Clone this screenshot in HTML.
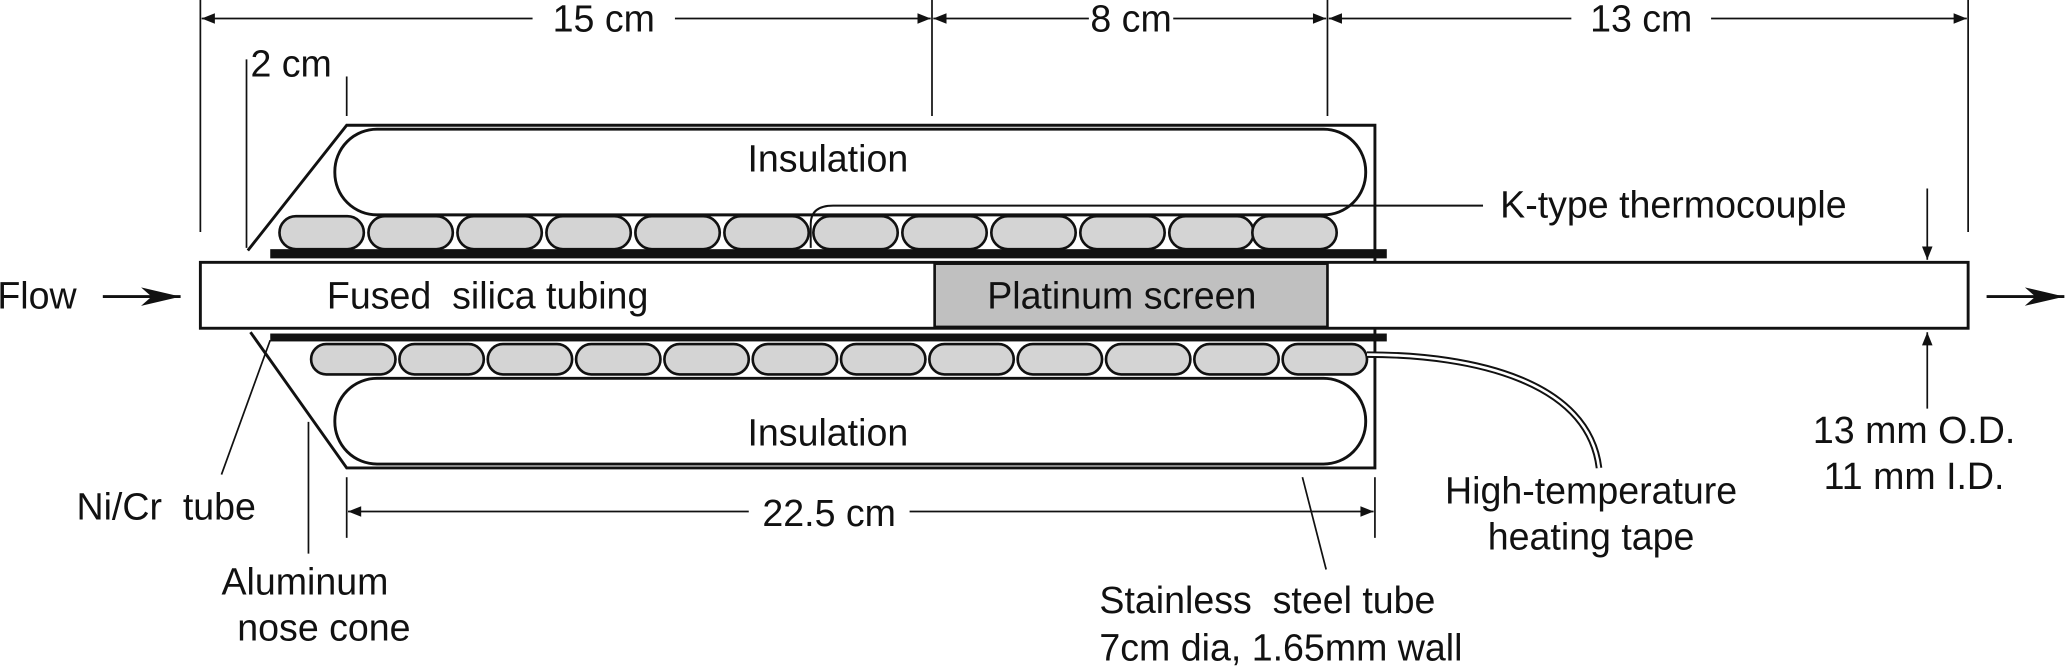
<!DOCTYPE html>
<html><head><style>
html,body{margin:0;padding:0;background:#fff;}
svg{display:block;}
text{font-family:"Liberation Sans",Arial,sans-serif;font-size:28.5px;fill:#111;}
</style></head><body>
<svg width="2067" height="671" viewBox="0 0 1568 509" xmlns="http://www.w3.org/2000/svg">
<defs>
<marker id="a" viewBox="0 0 10 10" refX="10" refY="5" markerWidth="11" markerHeight="10" orient="auto-start-reverse" markerUnits="userSpaceOnUse"><path d="M0,1 L10,5 L0,9 Z" fill="#111"/></marker>
<marker id="b" viewBox="0 0 30 14" refX="30" refY="7" markerWidth="30" markerHeight="14" orient="auto" markerUnits="userSpaceOnUse"><path d="M0,0 L30,7 L0,14 L8,7 Z" fill="#111"/></marker>
</defs>
<g stroke="#111" stroke-width="1.3" fill="none">
<line x1="152" y1="0" x2="152" y2="176"/>
<line x1="707" y1="0" x2="707" y2="88"/>
<line x1="1007" y1="0" x2="1007" y2="88"/>
<line x1="1493" y1="0" x2="1493" y2="176"/>
<line x1="153" y1="14" x2="404" y2="14" marker-start="url(#a)"/>
<line x1="512" y1="14" x2="706" y2="14" marker-end="url(#a)"/>
<line x1="708" y1="14" x2="826" y2="14" marker-start="url(#a)"/>
<line x1="890" y1="14" x2="1006" y2="14" marker-end="url(#a)"/>
<line x1="1008" y1="14" x2="1192" y2="14" marker-start="url(#a)"/>
<line x1="1298" y1="14" x2="1492" y2="14" marker-end="url(#a)"/>
<line x1="187" y1="45" x2="187" y2="188"/>
<line x1="263" y1="58" x2="263" y2="88"/>
<line x1="263" y1="362" x2="263" y2="408"/>
<line x1="1043" y1="362" x2="1043" y2="408"/>
<line x1="264" y1="388" x2="568" y2="388" marker-start="url(#a)"/>
<line x1="690" y1="388" x2="1042" y2="388" marker-end="url(#a)"/>
<line x1="205" y1="258" x2="168" y2="360"/>
<line x1="234" y1="320" x2="234" y2="420"/>
<line x1="988" y1="362" x2="1006" y2="432"/>
<line x1="1462" y1="143" x2="1462" y2="197" marker-end="url(#a)"/>
<line x1="1462" y1="310" x2="1462" y2="252" marker-end="url(#a)"/>
</g>
<g stroke="#111" stroke-width="2.2" fill="none">
<line x1="78" y1="225" x2="137" y2="225" marker-end="url(#b)"/>
<line x1="1507" y1="225" x2="1566" y2="225" marker-end="url(#b)"/>
<polyline points="188,190 263,95 1043,95 1043,355 263,355 190,252"/>
<rect x="254" y="98" width="782" height="65" rx="32"/>
<rect x="254" y="287" width="782" height="65" rx="32"/>
</g>
<g fill="#d4d4d4" stroke="#111" stroke-width="2">
<rect x="212" y="164" width="64" height="25" rx="12.5"/><rect x="279.5" y="164" width="64" height="25" rx="12.5"/><rect x="347" y="164" width="64" height="25" rx="12.5"/><rect x="414.5" y="164" width="64" height="25" rx="12.5"/><rect x="482" y="164" width="64" height="25" rx="12.5"/><rect x="549.5" y="164" width="64" height="25" rx="12.5"/><rect x="617" y="164" width="64" height="25" rx="12.5"/><rect x="684.5" y="164" width="64" height="25" rx="12.5"/><rect x="752" y="164" width="64" height="25" rx="12.5"/><rect x="819.5" y="164" width="64" height="25" rx="12.5"/><rect x="887" y="164" width="64" height="25" rx="12.5"/><rect x="950" y="164" width="64" height="25" rx="12.5"/>
<rect x="236" y="261" width="64" height="23" rx="11.5"/><rect x="303" y="261" width="64" height="23" rx="11.5"/><rect x="370" y="261" width="64" height="23" rx="11.5"/><rect x="437" y="261" width="64" height="23" rx="11.5"/><rect x="504" y="261" width="64" height="23" rx="11.5"/><rect x="571" y="261" width="64" height="23" rx="11.5"/><rect x="638" y="261" width="64" height="23" rx="11.5"/><rect x="705" y="261" width="64" height="23" rx="11.5"/><rect x="772" y="261" width="64" height="23" rx="11.5"/><rect x="839" y="261" width="64" height="23" rx="11.5"/><rect x="906" y="261" width="64" height="23" rx="11.5"/><rect x="973" y="261" width="64" height="23" rx="11.5"/>
</g>
<path d="M1125,156 L632,156 Q615,156 615,170 L615,188" stroke="#111" stroke-width="1.5" fill="none"/>
<path d="M1037,269 C1120,269 1205,290 1213,355" stroke="#111" stroke-width="5" fill="none"/>
<path d="M1037,269 C1120,269 1205,290 1213,355" stroke="#fff" stroke-width="2" fill="none"/>
<rect x="205" y="189" width="847" height="7" fill="#111"/>
<rect x="205" y="253" width="847" height="6" fill="#111"/>
<rect x="152" y="199" width="1341" height="50" fill="#fff" stroke="#111" stroke-width="2.2"/>
<rect x="709" y="200" width="298" height="48" fill="#c0c0c0" stroke="#111" stroke-width="2"/>
<text x="458" y="24" text-anchor="middle">15 cm</text>
<text x="858" y="24" text-anchor="middle">8 cm</text>
<text x="1245" y="24" text-anchor="middle">13 cm</text>
<text x="190" y="58">2 cm</text>
<text x="628" y="130" text-anchor="middle">Insulation</text>
<text x="628" y="338" text-anchor="middle">Insulation</text>
<text x="1138" y="165">K-type thermocouple</text>
<text x="-2" y="234">Flow</text>
<text x="248" y="234" xml:space="preserve">Fused  silica tubing</text>
<text x="851" y="234" text-anchor="middle">Platinum screen</text>
<text x="1452" y="336" text-anchor="middle">13 mm O.D.</text>
<text x="1452" y="371" text-anchor="middle">11 mm I.D.</text>
<text x="1207" y="382" text-anchor="middle">High-temperature</text>
<text x="1207" y="417" text-anchor="middle">heating tape</text>
<text x="629" y="399" text-anchor="middle">22.5 cm</text>
<text x="58" y="394" xml:space="preserve">Ni/Cr  tube</text>
<text x="168" y="451">Aluminum</text>
<text x="180" y="486">nose cone</text>
<text x="834" y="465" xml:space="preserve">Stainless  steel tube</text>
<text x="834" y="501">7cm dia, 1.65mm wall</text>
</svg>
</body></html>
